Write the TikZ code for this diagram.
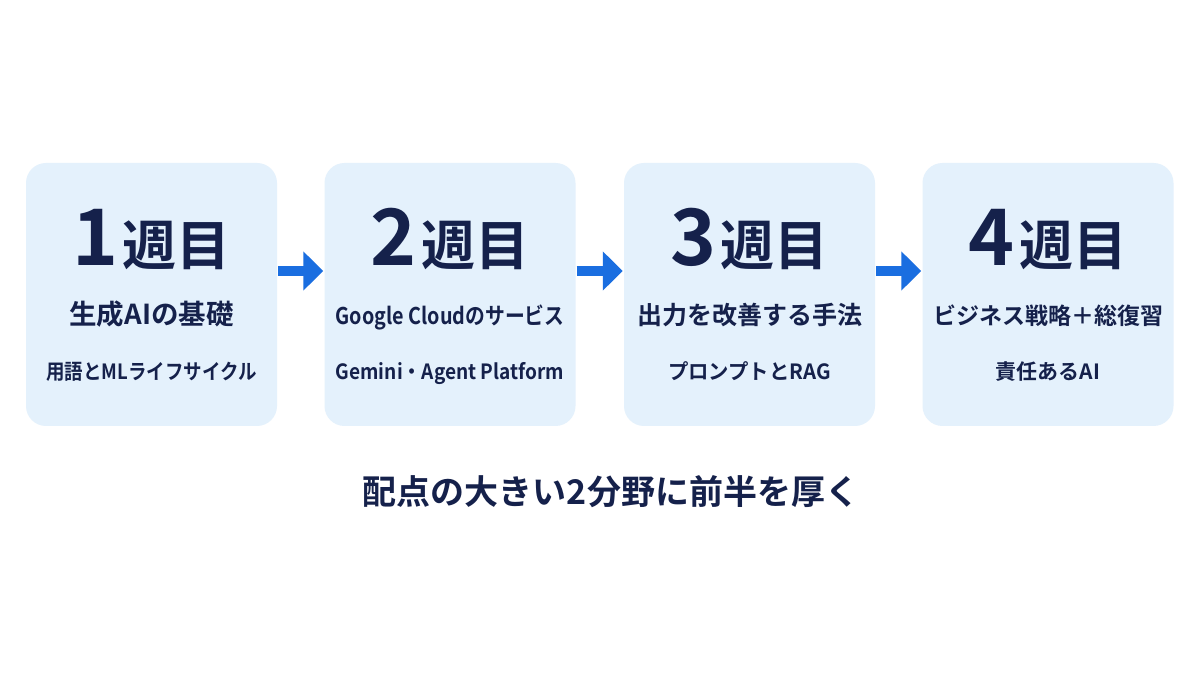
\documentclass[tikz,border=0pt]{standalone}
\usepackage{fontspec}
\setmainfont{Noto Sans CJK JP}[BoldFont={* Bold}]
\usepackage{tikz}
\usetikzlibrary{arrows.meta}
\usetikzlibrary{positioning}
\definecolor{navy}{HTML}{15214B}
\definecolor{boxblue}{HTML}{E4F1FC}
\definecolor{arrblue}{HTML}{1A6EE0}
\tikzstyle{wk}=[rectangle,rounded corners=20pt,fill=boxblue,draw=none,
                minimum width=251pt,minimum height=263pt,inner sep=0]
\tikzstyle{ttl}=[text=navy,font=\bfseries,anchor=base,inner sep=0]
\tikzstyle{sub}=[text=navy,font=\bfseries,anchor=base,inner sep=0]
\tikzstyle{note}=[text=navy,font=\bfseries\fontsize{21}{24}\selectfont,anchor=base,inner sep=0]
\tikzstyle{arr}=[arrblue,line width=9.5pt,
                 -{Triangle[length=20pt,width=38pt]},shorten <=1pt,shorten >=1pt]

\begin{document}
\begin{tikzpicture}[x=1pt,y=1pt]
\path[use as bounding box,fill=white] (0,0) rectangle (1200,675);
\foreach \i/\cx/\fa/\xa/\xb/\sa/\sb in {%
  1/151.5/27.5/1/0.88/生成AIの基礎/用語とMLライフサイクル,
  2/450/23/0.86/0.91/Google Cloudのサービス/Gemini・Agent Platform,
  3/749.5/25/1/0.97/出力を改善する手法/プロンプトとRAG,
  4/1048/23/1/1/ビジネス戦略＋総復習/責任あるAI}
{
  \node[wk] (b\i) at (\cx,380.5) {};
  \node[ttl] (t\i) at (\cx,409)
    {{\fontsize{78}{78}\selectfont\i}\hspace{4pt}{\fontsize{54}{54}\selectfont 週目}};
  \node[sub] (s\i) at (\cx,350)
    {\scalebox{\xa}[1]{\fontsize{\fa}{\fa}\selectfont\sa}};
  \node[note] (n\i) at (\cx,295) {\scalebox{\xb}[1]{\sb}};
}
% arrows sit above the middle of the boxes
\draw[arr] ([yshift=23.5pt]b1.east) -- ([yshift=23.5pt]b2.west);
\draw[arr] ([yshift=23.5pt]b2.east) -- ([yshift=23.5pt]b3.west);
\draw[arr] ([yshift=23.5pt]b3.east) -- ([yshift=23.5pt]b4.west);
\node[text=navy,font=\bfseries\fontsize{34}{40}\selectfont,anchor=base,inner sep=0]
  (msg) at (611,170) {配点の大きい2分野に前半を厚く};
\end{tikzpicture}
\end{document}
